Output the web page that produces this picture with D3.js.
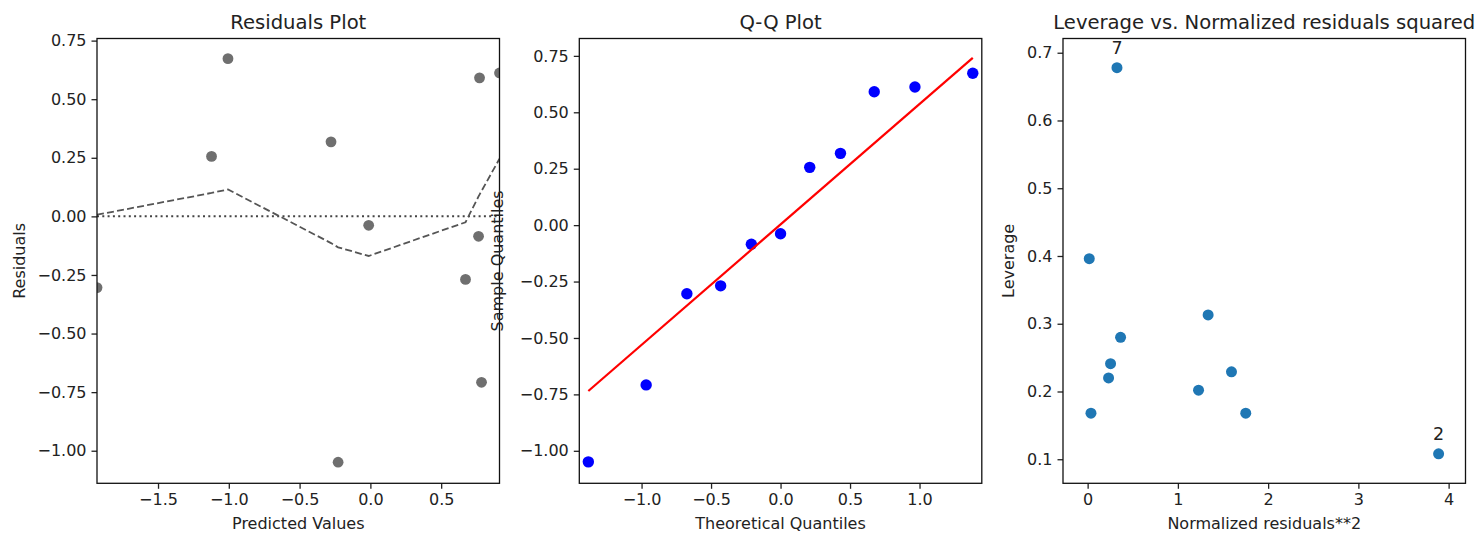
<!DOCTYPE html>
<html>
<head>
<meta charset="utf-8">
<script src="https://cdn.jsdelivr.net/npm/d3@7"></script>
<style>
  body { margin: 0; background: #fff; }
  svg { display: block; font-family: "DejaVu Sans", sans-serif; }
  .tick text { fill: #222; font-size: 16px; }
  .tick line { stroke: #222; stroke-width: 1.3; }
</style>
</head>
<body>
<div id="chart"></div>
<script>
// Residuals plot
const predicted = [-1.931, -1.122, -1.006, -0.278, -0.228, -0.012, 0.672, 0.764, 0.771, 0.785, 0.912];
const residuals = [-0.304, 0.256, 0.673, 0.318, -1.049, -0.038, -0.269, -0.085, 0.591, -0.708, 0.612];
const lowessY = [0.007, 0.10, 0.115, -0.114, -0.132, -0.169, -0.025, 0.085, 0.093, 0.108, 0.246];

// Q-Q plot
const theoretical = [-1.383, -0.967, -0.674, -0.431, -0.210, 0, 0.210, 0.431, 0.674, 0.967, 1.383];
const sampleQ = [-1.049, -0.708, -0.304, -0.269, -0.085, -0.038, 0.256, 0.318, 0.591, 0.612, 0.673];
const qqLineX = [-1.383, 1.383];
const qqLineY = [-0.735, 0.741];

// Leverage vs normalized residuals squared
const normResid2 = [0.325, 0.018, 1.335, 0.365, 0.254, 0.232, 1.594, 1.229, 0.037, 1.752, 3.889];
const leverage = [0.678, 0.396, 0.313, 0.280, 0.241, 0.220, 0.229, 0.202, 0.168, 0.168, 0.108];
const pointLabels = ['7', '', '', '', '', '', '', '', '', '', '2'];

// axis limits and ticks
const resXDomain = [-1.931, 0.912], resYDomain = [-1.139, 0.759];
const qqXDomain = [-1.448, 1.448], qqYDomain = [-1.144, 0.827];
const levXDomain = [-0.273, 4.187], levYDomain = [0.0645, 0.721];
const resXTicks = [-1.5, -1.0, -0.5, 0.0, 0.5];
const qqXTicks = [-1.0, -0.5, 0.0, 0.5, 1.0];
const residYTicks = [-1.0, -0.75, -0.5, -0.25, 0.0, 0.25, 0.5, 0.75];
const levXTicks = [0, 1, 2, 3, 4];
const levYTicks = [0.1, 0.2, 0.3, 0.4, 0.5, 0.6, 0.7];

const W = 1478, H = 535;
const plotTop = 38.5, plotH = 444.8, plotW = 402.5;

const svg = d3.select('#chart').append('svg')
  .attr('width', W)
  .attr('height', H);

function makePanel(opts) {
  const g = svg.append('g').attr('transform', `translate(${opts.left},${plotTop})`);

  const x = d3.scaleLinear().domain(opts.xDomain).range([0, plotW]);
  const y = d3.scaleLinear().domain(opts.yDomain).range([plotH, 0]);

  g.append('clipPath').attr('id', opts.id)
    .append('rect').attr('width', plotW).attr('height', plotH);

  const xAxis = g.append('g')
    .attr('transform', `translate(0,${plotH})`)
    .call(d3.axisBottom(x).tickValues(opts.xTicks).tickFormat(d3.format(opts.xFmt)).tickSize(5.5).tickPadding(5));
  const yAxis = g.append('g')
    .call(d3.axisLeft(y).tickValues(opts.yTicks).tickFormat(d3.format(opts.yFmt)).tickSize(5.5).tickPadding(5));
  xAxis.select('.domain').remove();
  yAxis.select('.domain').remove();
  xAxis.attr('font-family', null).attr('font-size', null);
  yAxis.attr('font-family', null).attr('font-size', null);

  // title
  g.append('text')
    .attr('x', plotW / 2)
    .attr('y', -10)
    .attr('text-anchor', 'middle')
    .style('font-size', '19.6px')
    .style('fill', '#222')
    .text(opts.title);

  // x label
  g.append('text')
    .attr('x', plotW / 2)
    .attr('y', plotH + 46)
    .attr('text-anchor', 'middle')
    .style('font-size', '16px')
    .style('fill', '#222')
    .text(opts.xLabel);

  // y label
  g.append('text')
    .attr('transform', `translate(${opts.yLabelX - opts.left},${plotH / 2}) rotate(-90)`)
    .attr('text-anchor', 'middle')
    .style('font-size', '16px')
    .style('fill', '#222')
    .text(opts.yLabel);

  const plot = g.append('g').attr('clip-path', `url(#${opts.id})`);

  return { g, plot, x, y };
}

function drawFrame(p) {
  p.g.append('rect')
    .attr('width', plotW)
    .attr('height', plotH)
    .style('fill', 'none')
    .style('stroke', '#111')
    .style('stroke-width', 1.3);
}

// ---- Panel 1: residuals ----
const p1 = makePanel({
  id: 'clip1', left: 97, xDomain: resXDomain, yDomain: resYDomain,
  xTicks: resXTicks, yTicks: residYTicks, xFmt: '.1f', yFmt: '.2f',
  title: 'Residuals Plot', xLabel: 'Predicted Values', yLabel: 'Residuals', yLabelX: 25
});

p1.plot.selectAll('circle')
  .data(predicted)
  .enter().append('circle')
  .attr('cx', d => p1.x(d))
  .attr('cy', (d, i) => p1.y(residuals[i]))
  .attr('r', 5.4)
  .style('fill', '#6f6f6f');

p1.plot.append('line')
  .attr('x1', 0).attr('x2', plotW)
  .attr('y1', p1.y(0)).attr('y2', p1.y(0))
  .style('stroke', '#444')
  .style('stroke-width', 2)
  .style('stroke-dasharray', '2,3.3');

const lowessLine = d3.line()
  .x(d => p1.x(d[0]))
  .y(d => p1.y(d[1]));

p1.plot.append('path')
  .datum(predicted.map((d, i) => [d, lowessY[i]]))
  .attr('d', lowessLine)
  .style('fill', 'none')
  .style('stroke', '#555')
  .style('stroke-width', 1.8)
  .style('stroke-dasharray', '7,3.2');

drawFrame(p1);

// ---- Panel 2: Q-Q ----
const p2 = makePanel({
  id: 'clip2', left: 579.3, xDomain: qqXDomain, yDomain: qqYDomain,
  xTicks: qqXTicks, yTicks: residYTicks, xFmt: '.1f', yFmt: '.2f',
  title: 'Q-Q Plot', xLabel: 'Theoretical Quantiles', yLabel: 'Sample Quantiles', yLabelX: 503
});

p2.plot.selectAll('circle')
  .data(theoretical)
  .enter().append('circle')
  .attr('cx', d => p2.x(d))
  .attr('cy', (d, i) => p2.y(sampleQ[i]))
  .attr('r', 5.7)
  .style('fill', '#0000ff');

p2.plot.append('line')
  .attr('x1', p2.x(qqLineX[0])).attr('x2', p2.x(qqLineX[1]))
  .attr('y1', p2.y(qqLineY[0])).attr('y2', p2.y(qqLineY[1]))
  .style('stroke', '#ff0000')
  .style('stroke-width', 2.2);

drawFrame(p2);

// ---- Panel 3: leverage ----
const p3 = makePanel({
  id: 'clip3', left: 1063, xDomain: levXDomain, yDomain: levYDomain,
  xTicks: levXTicks, yTicks: levYTicks, xFmt: 'd', yFmt: '.1f',
  title: 'Leverage vs. Normalized residuals squared', xLabel: 'Normalized residuals**2',
  yLabel: 'Leverage', yLabelX: 1014
});

p3.plot.selectAll('circle')
  .data(normResid2)
  .enter().append('circle')
  .attr('cx', d => p3.x(d))
  .attr('cy', (d, i) => p3.y(leverage[i]))
  .attr('r', 5.5)
  .style('fill', '#1f77b4');

p3.g.selectAll('.pt-label')
  .data(normResid2)
  .enter().append('text')
  .attr('class', 'pt-label')
  .attr('x', d => p3.x(d))
  .attr('y', (d, i) => p3.y(leverage[i]) - 14)
  .attr('text-anchor', 'middle')
  .style('font-size', '17.5px')
  .style('fill', '#222')
  .text((d, i) => pointLabels[i]);

drawFrame(p3);
</script>
</body>
</html>
